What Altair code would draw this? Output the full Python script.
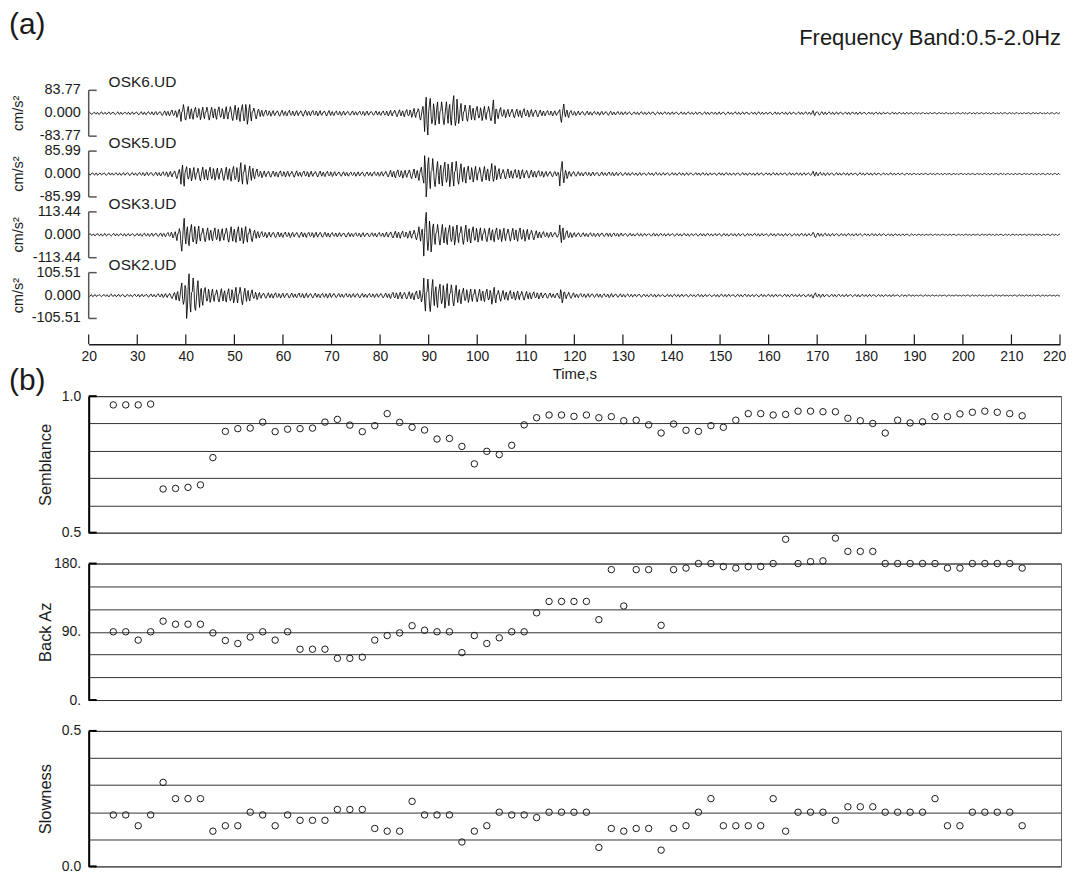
import altair as alt
import pandas as pd

FONT = "Liberation Sans"
INK = "#1a1a1a"

# ---------------- panel (a): waveforms ----------------
stations = ["OSK6.UD", "OSK5.UD", "OSK3.UD", "OSK2.UD"]
full_scale = ["83.77", "85.99", "113.44", "105.51"]
trace_row = [3, 2, 1, 0]
carrier_phase = [0, 11, 5, 17]

# envelope (percent of full scale), one value per second, t = 20..119
env_osk6 = [5, 5, 6, 5, 6, 6, 6, 5, 6, 6,
            7, 7, 7, 8, 8, 10, 12, 14, 18, 42,
            30, 28, 26, 28, 30, 26, 28, 25, 30, 32,
            35, 38, 48, 40, 25, 18, 14, 13, 12, 13,
            12, 13, 12, 12, 13, 12, 12, 12, 11, 12,
            11, 10, 10, 9, 10, 9, 10, 10, 9, 10,
            10, 12, 14, 15, 15, 16, 18, 22, 30, 100,
            65, 52, 55, 50, 55, 77, 45, 40, 35, 32,
            30, 32, 33, 58, 25, 20, 18, 20, 18, 20,
            17, 17, 16, 14, 12, 12, 11, 40, 20, 12]
env_osk5 = [5, 6, 5, 6, 6, 5, 6, 6, 7, 6,
            7, 8, 8, 8, 9, 10, 12, 15, 20, 56,
            32, 30, 28, 30, 28, 30, 27, 28, 30, 33,
            35, 52, 45, 35, 22, 16, 14, 14, 13, 14,
            13, 13, 14, 12, 13, 13, 12, 13, 12, 12,
            11, 10, 10, 10, 9, 10, 10, 9, 10, 10,
            11, 13, 16, 18, 18, 17, 20, 22, 30, 100,
            75, 55, 55, 52, 55, 62, 45, 42, 35, 35,
            32, 33, 32, 46, 25, 22, 22, 20, 22, 20,
            18, 17, 15, 14, 12, 12, 11, 55, 20, 12]
env_osk3 = [5, 5, 5, 6, 5, 6, 5, 6, 6, 6,
            6, 7, 7, 8, 8, 9, 10, 14, 30, 72,
            50, 45, 40, 32, 30, 28, 30, 28, 32, 35,
            35, 38, 38, 30, 20, 14, 13, 12, 12, 12,
            12, 12, 11, 12, 12, 11, 12, 12, 11, 11,
            10, 10, 9, 10, 9, 9, 10, 9, 9, 10,
            10, 12, 14, 16, 16, 15, 18, 22, 35, 98,
            75, 50, 45, 45, 42, 45, 40, 42, 38, 35,
            32, 30, 30, 32, 30, 30, 28, 28, 30, 28,
            25, 22, 18, 14, 12, 12, 11, 43, 18, 12]
env_osk2 = [5, 5, 5, 5, 6, 5, 6, 6, 5, 6,
            6, 6, 7, 7, 8, 9, 10, 13, 25, 55,
            100, 85, 65, 45, 35, 30, 28, 30, 30, 32,
            38, 40, 32, 25, 18, 14, 12, 12, 12, 11,
            11, 11, 10, 11, 11, 10, 11, 10, 10, 11,
            10, 9, 9, 9, 9, 10, 9, 9, 9, 9,
            10, 11, 14, 15, 16, 15, 17, 20, 28, 80,
            70, 55, 50, 55, 52, 45, 38, 32, 30, 30,
            28, 28, 28, 38, 25, 22, 22, 20, 21, 20,
            18, 16, 15, 13, 12, 11, 11, 32, 16, 12]
# common coda envelope, t = 120..220
env_tail = [10, 9, 9, 9, 8, 9, 8, 9, 8, 8,
            7, 7, 6, 7, 6, 6, 7, 6, 6, 6,
            6, 6, 6, 6, 5, 6, 6, 6, 5, 6,
            6, 6, 5, 6, 6, 6, 5, 6, 6, 5,
            6, 6, 5, 6, 6, 5, 6, 6, 6, 12,
            8, 7, 6, 6, 6, 5, 6, 5, 6, 5,
            5, 5, 5, 5, 4, 5, 4, 4, 4, 4,
            3, 3, 3, 3, 3, 3, 3, 3, 3, 3,
            3, 3, 3, 3, 3, 3, 3, 3, 3, 3,
            3, 3, 3, 3, 3, 3, 3, 3, 3, 3, 3]
# oscillation shape, 6 samples per second
carrier = [0.2, 0.9, 0.4, -0.6, -1.0, -0.3, 0.5, 1.0, -0.1, -0.8,
           0.3, 0.7, -0.5, -0.95, 0.1, 0.6, 1.0, -0.2, -0.7, -0.4,
           0.8, 0.3, -1.0, -0.5, 0.45, 0.95, -0.3, -0.85, 0.15]
SPS = 6

time_ticks = list(range(20, 221, 10))

# ---------------- panel (b): array analysis ----------------
semblance = [0.968, 0.968, 0.968, 0.971, 0.660, 0.662, 0.666, 0.675, 0.775, 0.871,
             0.881, 0.883, 0.905, 0.870, 0.879, 0.881, 0.883, 0.905, 0.915, 0.894,
             0.870, 0.892, 0.936, 0.904, 0.886, 0.876, 0.843, 0.845, 0.816, 0.752,
             0.798, 0.786, 0.820, 0.895, 0.921, 0.931, 0.931, 0.926, 0.931, 0.921,
             0.925, 0.910, 0.912, 0.895, 0.865, 0.898, 0.875, 0.871, 0.892, 0.886,
             0.912, 0.936, 0.936, 0.931, 0.933, 0.945, 0.945, 0.943, 0.943, 0.919,
             0.910, 0.900, 0.865, 0.912, 0.902, 0.906, 0.925, 0.925, 0.935, 0.941,
             0.945, 0.941, 0.936, 0.928]
back_az = [90, 90, 79, 90, 104, 100, 100, 100, 88.5, 78.5,
           74.5, 83, 90, 79, 90, 67, 67, 67, 55, 55,
           56.5, 79, 85, 88.5, 98, 92, 90, 90, 62.5, 85,
           74.5, 82, 90, 90, 115, 130, 130, 130, 130, 106,
           172, 124, 172, 172, 98.5, 172, 174, 180, 180, 176,
           174, 176, 176, 180, 212, 180, 182.5, 183.5, 213.5, 196,
           196, 196, 180, 180, 180, 180, 180, 174, 174, 180,
           180, 180, 180, 174]
slowness = [0.19, 0.19, 0.15, 0.19, 0.31, 0.25, 0.25, 0.25, 0.13, 0.15,
            0.15, 0.20, 0.19, 0.15, 0.19, 0.17, 0.17, 0.17, 0.21, 0.21,
            0.21, 0.14, 0.13, 0.13, 0.24, 0.19, 0.19, 0.19, 0.09, 0.13,
            0.15, 0.20, 0.19, 0.19, 0.18, 0.20, 0.20, 0.20, 0.20, 0.07,
            0.14, 0.13, 0.14, 0.14, 0.06, 0.14, 0.15, 0.20, 0.25, 0.15,
            0.15, 0.15, 0.15, 0.25, 0.13, 0.20, 0.20, 0.20, 0.17, 0.22,
            0.22, 0.22, 0.20, 0.20, 0.20, 0.20, 0.25, 0.15, 0.15, 0.20,
            0.20, 0.20, 0.20, 0.15]
win_t = [25 + 2.5 * i for i in range(len(semblance))]

# ---------------- layout constants ----------------
ROW_PX = 61
HALF = 23 / ROW_PX
TOP_W, TOP_H = 975, 276
AXIS_LIFT = 21
Y_TOP = 3 + HALF
Y_BOT = Y_TOP - TOP_H / ROW_PX
BOT_W = 976

# ---------------- build waveform table ----------------
envs = {"OSK6.UD": env_osk6, "OSK5.UD": env_osk5, "OSK3.UD": env_osk3, "OSK2.UD": env_osk2}
rows = []
n_samp = 200 * SPS + 1
for s, r, ph in zip(stations, trace_row, carrier_phase):
    env = envs[s] + env_tail
    for k in range(n_samp):
        amp = env[min(k // SPS, 200)] / 100.0 * carrier[(k + ph) % len(carrier)]
        rows.append({"station": s, "t": 20 + k / SPS, "y": r + HALF * amp})
wave = pd.DataFrame(rows)

xs_top = alt.Scale(domain=[20, 220], nice=False, zero=False)
ys_top = alt.Scale(domain=[Y_BOT, Y_TOP], nice=False, zero=False)
x_axis_top = alt.Axis(
    values=time_ticks, tickCount=len(time_ticks), ticks=False, tickSize=0, grid=False,
    offset=-AXIS_LIFT, labelPadding=5, labelFontSize=14, labelColor=INK, labelFont=FONT,
    labelFlush=False, labelOverlap=False, domainColor=INK, domainWidth=1.5,
    labelOffset=alt.condition("datum.value == 220", alt.value(-6), alt.value(0)),
    title="Time,s", titleFontSize=15, titleFontWeight="normal", titleColor=INK,
    titleFont=FONT, titlePadding=3)

traces = alt.Chart(wave).mark_line(color="black", strokeWidth=0.85).encode(
    x=alt.X("t:Q", scale=xs_top, axis=x_axis_top),
    y=alt.Y("y:Q", scale=ys_top, axis=None),
    detail="station:N",
)

br = pd.DataFrame({"station": stations,
                   "lo": [r - HALF for r in trace_row],
                   "hi": [r + HALF for r in trace_row],
                   "mid": trace_row,
                   "name_y": [r + 31 / ROW_PX for r in trace_row]})
bracket = alt.Chart(br).mark_rule(color="#555555", strokeWidth=1.5).encode(
    x=alt.value(0), y=alt.Y("lo:Q", scale=ys_top, axis=None), y2="hi:Q")

ends_df = pd.DataFrame({"y": [r + d for r in trace_row for d in (HALF, -HALF)]})
bracket_ends = alt.Chart(ends_df).mark_rule(color="#555555", strokeWidth=1.5).encode(
    x=alt.value(0), x2=alt.value(8), y=alt.Y("y:Q", scale=ys_top, axis=None))

lab_rows = []
for r, fs in zip(trace_row, full_scale):
    lab_rows += [{"y": r + HALF, "txt": fs}, {"y": r, "txt": "0.000"}, {"y": r - HALF, "txt": "-" + fs}]
amp_labels = alt.Chart(pd.DataFrame(lab_rows)).mark_text(
    align="right", baseline="middle", fontSize=14.5, color=INK, font=FONT).encode(
    x=alt.value(-8), y=alt.Y("y:Q", scale=ys_top, axis=None), text="txt:N")

units = alt.Chart(br).mark_text(
    angle=270, align="center", baseline="middle", fontSize=14.5, color=INK, font=FONT,
    text="cm/s²").encode(x=alt.value(-70), y=alt.Y("mid:Q", scale=ys_top, axis=None))

names = alt.Chart(br).mark_text(
    align="left", baseline="middle", fontSize=15.5, color=INK, font=FONT).encode(
    x=alt.value(20), y=alt.Y("name_y:Q", scale=ys_top, axis=None), text="station:N")

xticks = alt.Chart(pd.DataFrame({"t": time_ticks})).mark_rule(color=INK, strokeWidth=1.2).encode(
    x=alt.X("t:Q", scale=xs_top, axis=x_axis_top),
    y=alt.value(TOP_H - AXIS_LIFT - 10), y2=alt.value(TOP_H - AXIS_LIFT))

tag_a = alt.Chart(pd.DataFrame({"s": ["(a)"]})).mark_text(
    align="left", baseline="middle", fontSize=30, color=INK, font=FONT).encode(
    x=alt.value(-80), y=alt.value(-66), text="s:N")
band = alt.Chart(pd.DataFrame({"s": ["Frequency Band:0.5-2.0Hz"]})).mark_text(
    align="right", baseline="middle", fontSize=22, color=INK, font=FONT).encode(
    x=alt.value(976), y=alt.value(-53), text="s:N")

top = alt.layer(traces, xticks, bracket, bracket_ends, amp_labels, units, names, tag_a, band).properties(
    width=TOP_W, height=TOP_H, view=alt.ViewBackground(stroke=None))

xs_bot = alt.Scale(domain=[20.06, 215.3], nice=False, zero=False)


def panel(values, title, lo, hi, grid_vals, label_expr, height, tag=None):
    df = pd.DataFrame({"t": win_t, "v": values})
    ys = alt.Scale(domain=[lo, hi], nice=False, zero=False)
    y_axis = alt.Axis(
        values=grid_vals, tickCount=len(grid_vals), grid=True, gridColor="#333333",
        gridWidth=1, gridOpacity=1, ticks=False, tickSize=0, domainColor="black",
        domainWidth=2, labelExpr=label_expr, labelPadding=8, labelFontSize=14,
        labelColor=INK, labelFont=FONT, labelFlush=False, labelOverlap=False,
        title=title, titleFontSize=16.5, titleFontWeight="normal", titleColor=INK,
        titleFont=FONT, titleX=-43, titleY=height / 2, titleAngle=270,
        titleAlign="center", titleBaseline="middle")
    pts = alt.Chart(df).mark_point(
        shape="circle", filled=False, size=42, color=INK, strokeWidth=1, opacity=1).encode(
        x=alt.X("t:Q", scale=xs_bot, axis=None),
        y=alt.Y("v:Q", scale=ys, axis=y_axis),
    )
    ends = alt.Chart(pd.DataFrame({"v": [lo, hi]})).mark_rule(color="black", strokeWidth=2).encode(
        x=alt.value(0), x2=alt.value(8), y=alt.Y("v:Q", scale=ys, axis=y_axis))
    layers = [pts, ends]
    if tag:
        layers.append(alt.Chart(pd.DataFrame({"s": [tag]})).mark_text(
            align="left", baseline="middle", fontSize=30, color=INK, font=FONT).encode(
            x=alt.value(-80), y=alt.value(-15), text="s:N"))
    return alt.layer(*layers).properties(width=BOT_W, height=height)


sem = panel(semblance, "Semblance", 0.5, 1.0, [0.5, 0.6, 0.7, 0.8, 0.9, 1.0],
            "datum.value == 1 ? '1.0' : (datum.value == 0.5 ? '0.5' : '')", 137, tag="(b)")
baz = panel(back_az, "Back Az", 0, 180, [0, 30, 60, 90, 120, 150, 180],
            "datum.value == 180 ? '180.' : (datum.value == 90 ? '90.' : (datum.value == 0 ? '0.' : ''))", 137)
slo = panel(slowness, "Slowness", 0.0, 0.5, [0.0, 0.1, 0.2, 0.3, 0.4, 0.5],
            "datum.value == 0.5 ? '0.5' : (datum.value == 0 ? '0.0' : '')", 136)

chart = alt.vconcat(top, sem, baz, slo, spacing=31, bounds="flush").properties(
    padding={"left": 0, "top": 0, "right": 0, "bottom": 0}
).configure_view(stroke="#666666", strokeWidth=1).configure_axis(
    labelFont=FONT, titleFont=FONT).configure_text(font=FONT)

chart.save("out.html", embed_options={"renderer": "svg", "actions": False})
